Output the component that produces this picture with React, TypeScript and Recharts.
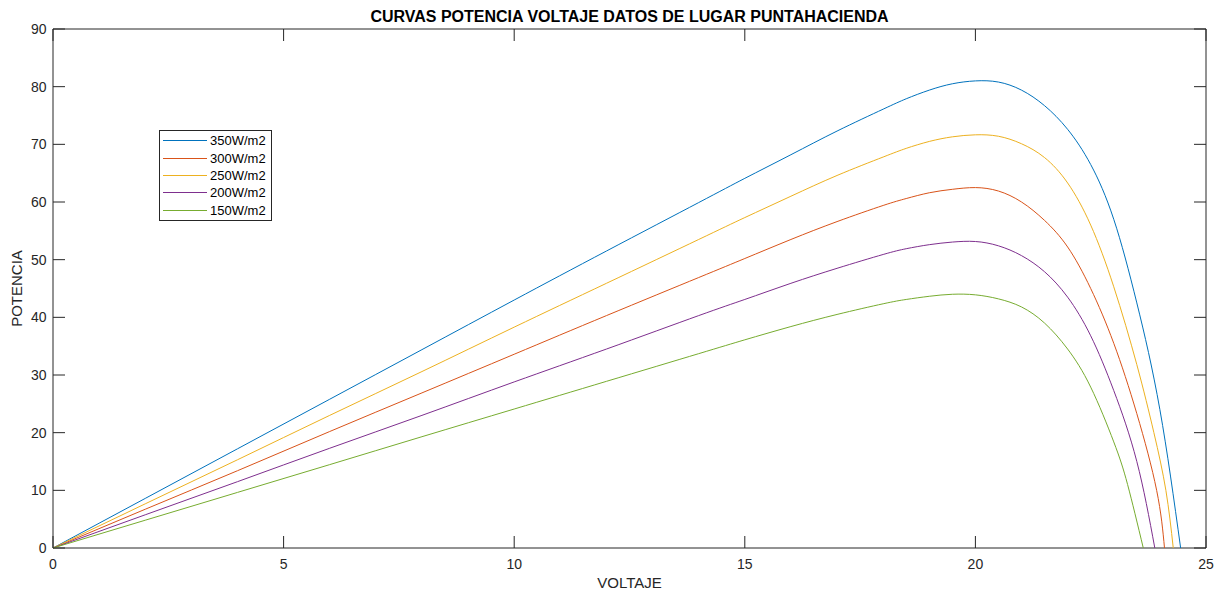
import React from "react";
import { LineChart, Line, XAxis, YAxis, ReferenceArea, Legend } from "recharts";

// Curvas P-V por nivel de irradiancia
const nombres = ["350W/m2", "300W/m2", "250W/m2", "200W/m2", "150W/m2"];
const colores = ["#0072BD", "#D95319", "#EDB120", "#7E2F8E", "#77AC30"];

const voltaje350 = [0, 2, 4, 6, 8, 10, 12, 14, 15, 16, 17, 18, 18.5, 19, 19.5, 20, 20.5, 21, 21.5, 22, 22.5, 23, 23.5, 24, 24.45];
const potencia350 = [0, 8.6, 17.2, 25.8, 34.4, 43.0, 51.5, 59.9, 64.1, 68.2, 72.3, 76.1, 77.9, 79.4, 80.5, 81.0, 80.8, 79.4, 76.7, 72.6, 66.5, 57.0, 42.5, 24.0, 0];

const voltaje300 = [0, 2, 4, 6, 8, 10, 12, 14, 15, 16, 17, 18, 18.5, 19, 19.5, 20, 20.5, 21, 21.5, 22, 22.5, 23, 23.5, 23.93, 24.1];
const potencia300 = [0, 6.72, 13.4, 20.2, 26.9, 33.6, 40.3, 46.9, 50.2, 53.5, 56.6, 59.4, 60.6, 61.6, 62.2, 62.5, 61.9, 60.0, 56.8, 52.2, 45.0, 35.5, 23.3, 10, 0];

const voltaje250 = [0, 2, 4, 6, 8, 10, 12, 14, 15, 16, 17, 18, 18.5, 19, 19.5, 20, 20.5, 21, 21.5, 22, 22.5, 23, 23.5, 23.87, 24.13, 24.29];
const potencia250 = [0, 7.66, 15.3, 23.0, 30.6, 38.3, 45.9, 53.5, 57.3, 61.0, 64.6, 67.8, 69.3, 70.5, 71.3, 71.65, 71.4, 70.1, 67.7, 63.3, 56.0, 45.3, 31.8, 20, 10, 0];

const voltaje200 = [0, 2, 4, 6, 8, 10, 12, 14, 15, 16, 17, 18, 18.5, 19, 19.5, 20, 20.5, 21, 21.5, 22, 22.5, 23, 23.5, 23.89];
const potencia200 = [0, 5.76, 11.5, 17.3, 23.0, 28.8, 34.5, 40.3, 43.1, 45.9, 48.5, 50.9, 51.9, 52.6, 53.05, 53.15, 52.4, 50.7, 47.9, 43.5, 36.8, 27.3, 15.0, 0];

const voltaje150 = [0, 2, 4, 6, 8, 10, 12, 14, 15, 16, 17, 18, 18.5, 19, 19.5, 20, 20.5, 21, 21.5, 22, 22.5, 23, 23.3, 23.64];
const potencia150 = [0, 4.82, 9.64, 14.46, 19.3, 24.1, 28.9, 33.7, 36.1, 38.4, 40.5, 42.35, 43.1, 43.65, 44.0, 43.9, 43.2, 41.8, 39.0, 34.5, 27.9, 18.4, 11.0, 0];

const ticksX = [0, 5, 10, 15, 20, 25];
const ticksY = [0, 10, 20, 30, 40, 50, 60, 70, 80, 90];

const curvas = [
  [voltaje350, potencia350],
  [voltaje300, potencia300],
  [voltaje250, potencia250],
  [voltaje200, potencia200],
  [voltaje150, potencia150],
].map(([v, p]) => v.map((x, i) => ({ v: x, p: p[i] })));

const W = 1232;
const H = 594;
const TOP = 29;
const RIGHT = 26;
const LEFT = 53;
const BOTTOM = 46;
const PLOT_TOP = TOP;
const PLOT_BOTTOM = H - BOTTOM;
const PLOT_LEFT = LEFT;
const PLOT_RIGHT = W - RIGHT;
const TICK = 12;
const EJE = "#262626";
const FUENTE = '"Liberation Sans", Arial, Helvetica, sans-serif';

function TickX(props: any) {
  const { x, payload } = props;
  return (
    <g>
      <line x1={x} x2={x} y1={PLOT_BOTTOM} y2={PLOT_BOTTOM - TICK} stroke={EJE} />
      <line x1={x} x2={x} y1={PLOT_TOP} y2={PLOT_TOP + TICK} stroke={EJE} />
      <text x={x} y={PLOT_BOTTOM + 20.5} textAnchor="middle" fill={EJE} fontSize={14} fontFamily={FUENTE}>
        {payload.value}
      </text>
    </g>
  );
}

function TickY(props: any) {
  const { y, payload } = props;
  return (
    <g>
      <line x1={PLOT_LEFT} x2={PLOT_LEFT + TICK} y1={y} y2={y} stroke={EJE} />
      <line x1={PLOT_RIGHT} x2={PLOT_RIGHT - TICK} y1={y} y2={y} stroke={EJE} />
      <text x={PLOT_LEFT - 6.5} y={y + 5} textAnchor="end" fill={EJE} fontSize={14} fontFamily={FUENTE}>
        {payload.value}
      </text>
    </g>
  );
}

function Leyenda() {
  return (
    <div
      style={{
        border: "1px solid #262626",
        background: "#fff",
        padding: "1px 5px 1px 3px",
        fontFamily: FUENTE,
        fontSize: 13,
        color: "#000",
      }}
    >
      {nombres.map((n, i) => (
        <div key={n} style={{ display: "flex", alignItems: "center", height: 17.4 }}>
          <svg width={44} height={3} style={{ display: "block" }}>
            <line x1={0} x2={44} y1={1.5} y2={1.5} stroke={colores[i]} strokeWidth={1} />
          </svg>
          <span style={{ marginLeft: 3, lineHeight: "15px" }}>{n}</span>
        </div>
      ))}
    </div>
  );
}

export default function App() {
  return (
    <div style={{ position: "absolute", left: 0, top: 0, width: W, height: H, background: "#fff" }}>
      <div
        style={{
          position: "absolute",
          left: PLOT_LEFT,
          width: PLOT_RIGHT - PLOT_LEFT,
          top: 8,
          textAlign: "center",
          fontFamily: FUENTE,
          fontWeight: "bold",
          fontSize: 16,
          lineHeight: "18px",
          color: "#000",
          zIndex: 2,
        }}
      >
        CURVAS POTENCIA VOLTAJE DATOS DE LUGAR PUNTAHACIENDA
      </div>
      <LineChart width={W} height={H} margin={{ top: TOP, right: RIGHT, left: 0, bottom: 0 }}>
        <XAxis
          dataKey="v"
          type="number"
          domain={[0, 25]}
          ticks={ticksX}
          interval={0}
          height={BOTTOM}
          axisLine={false}
          tickLine={false}
          tick={<TickX />}
          allowDuplicatedCategory={false}
          label={{
            value: "VOLTAJE",
            position: "insideBottom",
            offset: 6,
            fill: EJE,
            fontSize: 15,
            fontFamily: FUENTE,
          }}
        />
        <YAxis
          type="number"
          domain={[0, 90]}
          ticks={ticksY}
          interval={0}
          width={LEFT}
          axisLine={false}
          tickLine={false}
          tick={<TickY />}
          label={{
            value: "POTENCIA",
            angle: -90,
            position: "insideLeft",
            offset: 17,
            fill: EJE,
            fontSize: 15,
            fontFamily: FUENTE,
            style: { textAnchor: "middle" },
          }}
        />
        {curvas.map((d, i) => (
          <Line
            key={nombres[i]}
            data={d}
            dataKey="p"
            name={nombres[i]}
            stroke={colores[i]}
            strokeWidth={1}
            type="natural"
            dot={false}
            activeDot={false}
            isAnimationActive={false}
          />
        ))}
        <ReferenceArea x1={0} x2={25} y1={0} y2={90} fill="none" stroke={EJE} strokeWidth={1} />
        <Legend
          layout="vertical"
          align="center"
          verticalAlign="middle"
          wrapperStyle={{ left: 159, top: 130, width: "auto", height: "auto" }}
          content={<Leyenda />}
        />
      </LineChart>
    </div>
  );
}
